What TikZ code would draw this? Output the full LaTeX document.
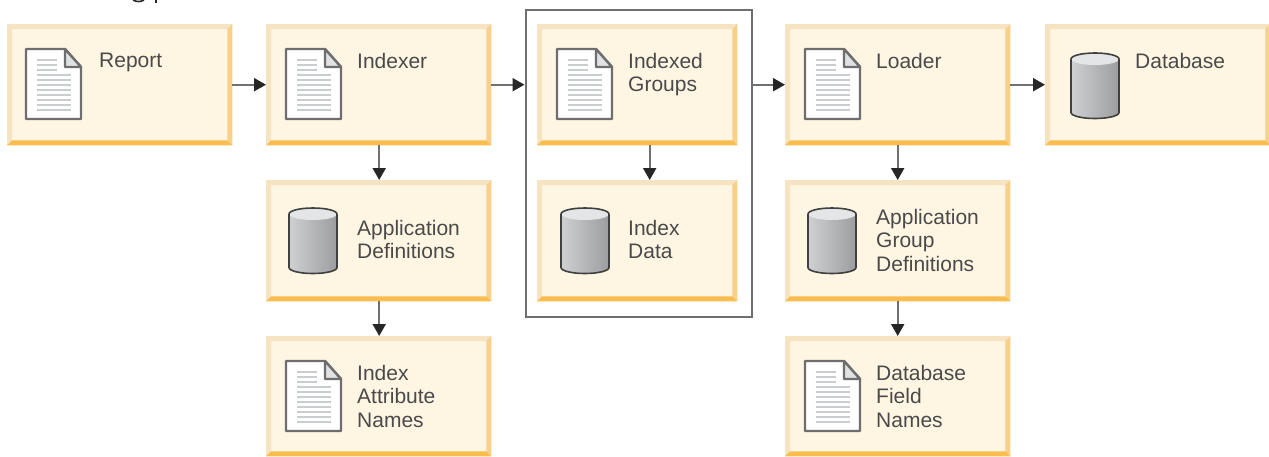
\documentclass[tikz,border=0pt]{standalone}
\usepackage{fontspec}
\setmainfont{Liberation Sans}
\definecolor{boxfill}{HTML}{FFF5E3}
\definecolor{boxlt}{HTML}{F6E3C2}
\definecolor{boxrt}{HTML}{F9D08A}
\definecolor{boxbt}{HTML}{F9BD4E}
\definecolor{txt}{HTML}{4A4A4A}
\definecolor{edge}{HTML}{6E6E6E}
\definecolor{arrowc}{HTML}{707070}
\definecolor{cylL}{HTML}{CFD0D2}
\definecolor{cylD}{HTML}{9C9D9F}
\definecolor{rule}{HTML}{C9CDD0}
\usetikzlibrary{arrows.meta}
\tikzset{
  x=1pt,y=-1pt,
  stepbox/.style={rectangle,inner sep=0pt,fill=boxfill,minimum width=#1,minimum height=121pt,anchor=north west},
  stepbox/.default=225pt,
  lbl/.style={anchor=north west,inner sep=0pt,align=left,text=txt,font=\fontsize{21}{23.5}\selectfont},
  conn/.style={draw=arrowc,line width=2pt,-{Triangle[length=12pt,width=13pt,fill=black!85,color=black!85]}},
  frame/.style={draw=edge,line width=2pt,fill=white},
}
\newcommand{\bevel}[1]{%
  \fill[boxlt] (#1.north west) -- (#1.north east) -- ([xshift=-5pt,yshift=-5pt]#1.north east) -- ([xshift=5pt,yshift=-5pt]#1.north west) -- ([xshift=5pt,yshift=5pt]#1.south west) -- (#1.south west) -- cycle;
  \fill[boxrt] (#1.north east) -- (#1.south east) -- ([xshift=-5pt,yshift=5pt]#1.south east) -- ([xshift=-5pt,yshift=-5pt]#1.north east) -- cycle;
  \fill[boxbt] (#1.south west) -- (#1.south east) -- ([xshift=-5pt,yshift=5pt]#1.south east) -- ([xshift=5pt,yshift=5pt]#1.south west) -- cycle;
}
\newcommand{\docicon}[2]{%
  \begin{scope}[shift={(#1,#2)}]
    \path[fill=white,draw=edge,line width=2.4pt,line join=round] (0,0) -- (39,0) -- (55,18) -- (55,70) -- (0,70) -- cycle;
    \path[fill=rule!60,draw=edge,line width=2.4pt,line join=round] (39,0) -- (55,18) -- (39,18) -- cycle;
    \foreach \yy/\xe in {11/31,16/31,21/31,26/45,31/45,36/45,41/45,46/45,51/45,56/45,61/45}
      \draw[rule,line width=1.3pt] (11,\yy) -- (\xe,\yy);
  \end{scope}}
\newcommand{\cylicon}[2]{%
  \begin{scope}[shift={(#1,#2)}]
    \shade[left color=cylL,right color=cylD,draw=none] (0,6) -- (0,59.5) arc[start angle=180,end angle=0,x radius=24,y radius=6] -- (48,6) -- cycle;
    \fill[cylL!55!white] (24,6) ellipse[x radius=24,y radius=6];
    \draw[black!75,line width=1.6pt] (0,6) arc[start angle=180,end angle=360,x radius=24,y radius=6];
    \draw[black!75,line width=1.6pt] (0,6) -- (0,59.5) arc[start angle=180,end angle=0,x radius=24,y radius=6] -- (48,6);
  \end{scope}}
\begin{document}
\begin{tikzpicture}
\useasboundingbox (0,0) rectangle (1269,456);
\fill[white] (0,0) rectangle (1269,456);
% clipped remains of a line of text above the picture
\begin{scope}
  \clip (0,0) rectangle (1269,456);
  \draw[black!85,line width=1.6pt] (132,-2) arc[start angle=180,end angle=0,x radius=6.5,y radius=3.5];
  \draw[black!85,line width=2pt] (156,-2) -- (156,2.5);
\end{scope}
\node[frame,inner sep=0pt,minimum width=226pt,minimum height=307pt,anchor=north west] (grp) at (524.5,9) {};
\node[stepbox] (report) at (7,24) {};
\node[stepbox] (indexer) at (266,24) {};
\node[stepbox=200pt] (groups) at (537,24) {};
\node[stepbox] (loader) at (785,24) {};
\node[stepbox] (database) at (1045,24) {};
\node[stepbox] (appdef) at (266,180) {};
\node[stepbox=200pt] (idxdata) at (537,180) {};
\node[stepbox] (appgrp) at (785,180) {};
\node[stepbox,minimum height=120pt] (attr) at (266,336) {};
\node[stepbox,minimum height=120pt] (field) at (785,336) {};
\bevel{report}\bevel{indexer}\bevel{groups}\bevel{loader}\bevel{database}
\bevel{appdef}\bevel{idxdata}\bevel{appgrp}\bevel{attr}\bevel{field}
\docicon{26}{49}\docicon{286}{49}\docicon{557}{49}\docicon{805}{49}
\docicon{286}{361}\docicon{805}{361}
\cylicon{1071}{53}\cylicon{289}{208}\cylicon{561}{208}\cylicon{808}{208}
\node[lbl] (t1) at (99,53) {Report};
\node[lbl] (t2) at (357,53) {Indexer};
\node[lbl] (t3) at (628,53) {Indexed\\Groups};
\node[lbl] (t4) at (876,53) {Loader};
\node[lbl] (t5) at (1135,53) {Database};
\node[lbl] (t6) at (357,220) {Application\\Definitions};
\node[lbl] (t7) at (628,220) {Index\\Data};
\node[lbl] (t8) at (876,209) {Application\\Group\\Definitions};
\node[lbl] (t9) at (357,365) {Index\\Attribute\\Names};
\node[lbl] (t10) at (876,365) {Database\\Field\\Names};
\draw[conn] (report.east) -- (indexer.west);
\draw[conn] (indexer.east) -- (grp.west |- indexer.east);
\draw[conn] (grp.east |- loader.west) -- (loader.west);
\draw[conn] (loader.east) -- (database.west);
\draw[conn] ([xshift=0.5pt]indexer.south) -- ([xshift=0.5pt]appdef.north);
\draw[conn] ([xshift=0.5pt]appdef.south) -- ([xshift=0.5pt]attr.north);
\draw[conn] ([xshift=12.5pt]groups.south) -- ([xshift=12.5pt]idxdata.north);
\draw[conn] (loader.south) -- (appgrp.north);
\draw[conn] (appgrp.south) -- (field.north);
\end{tikzpicture}
\end{document}
